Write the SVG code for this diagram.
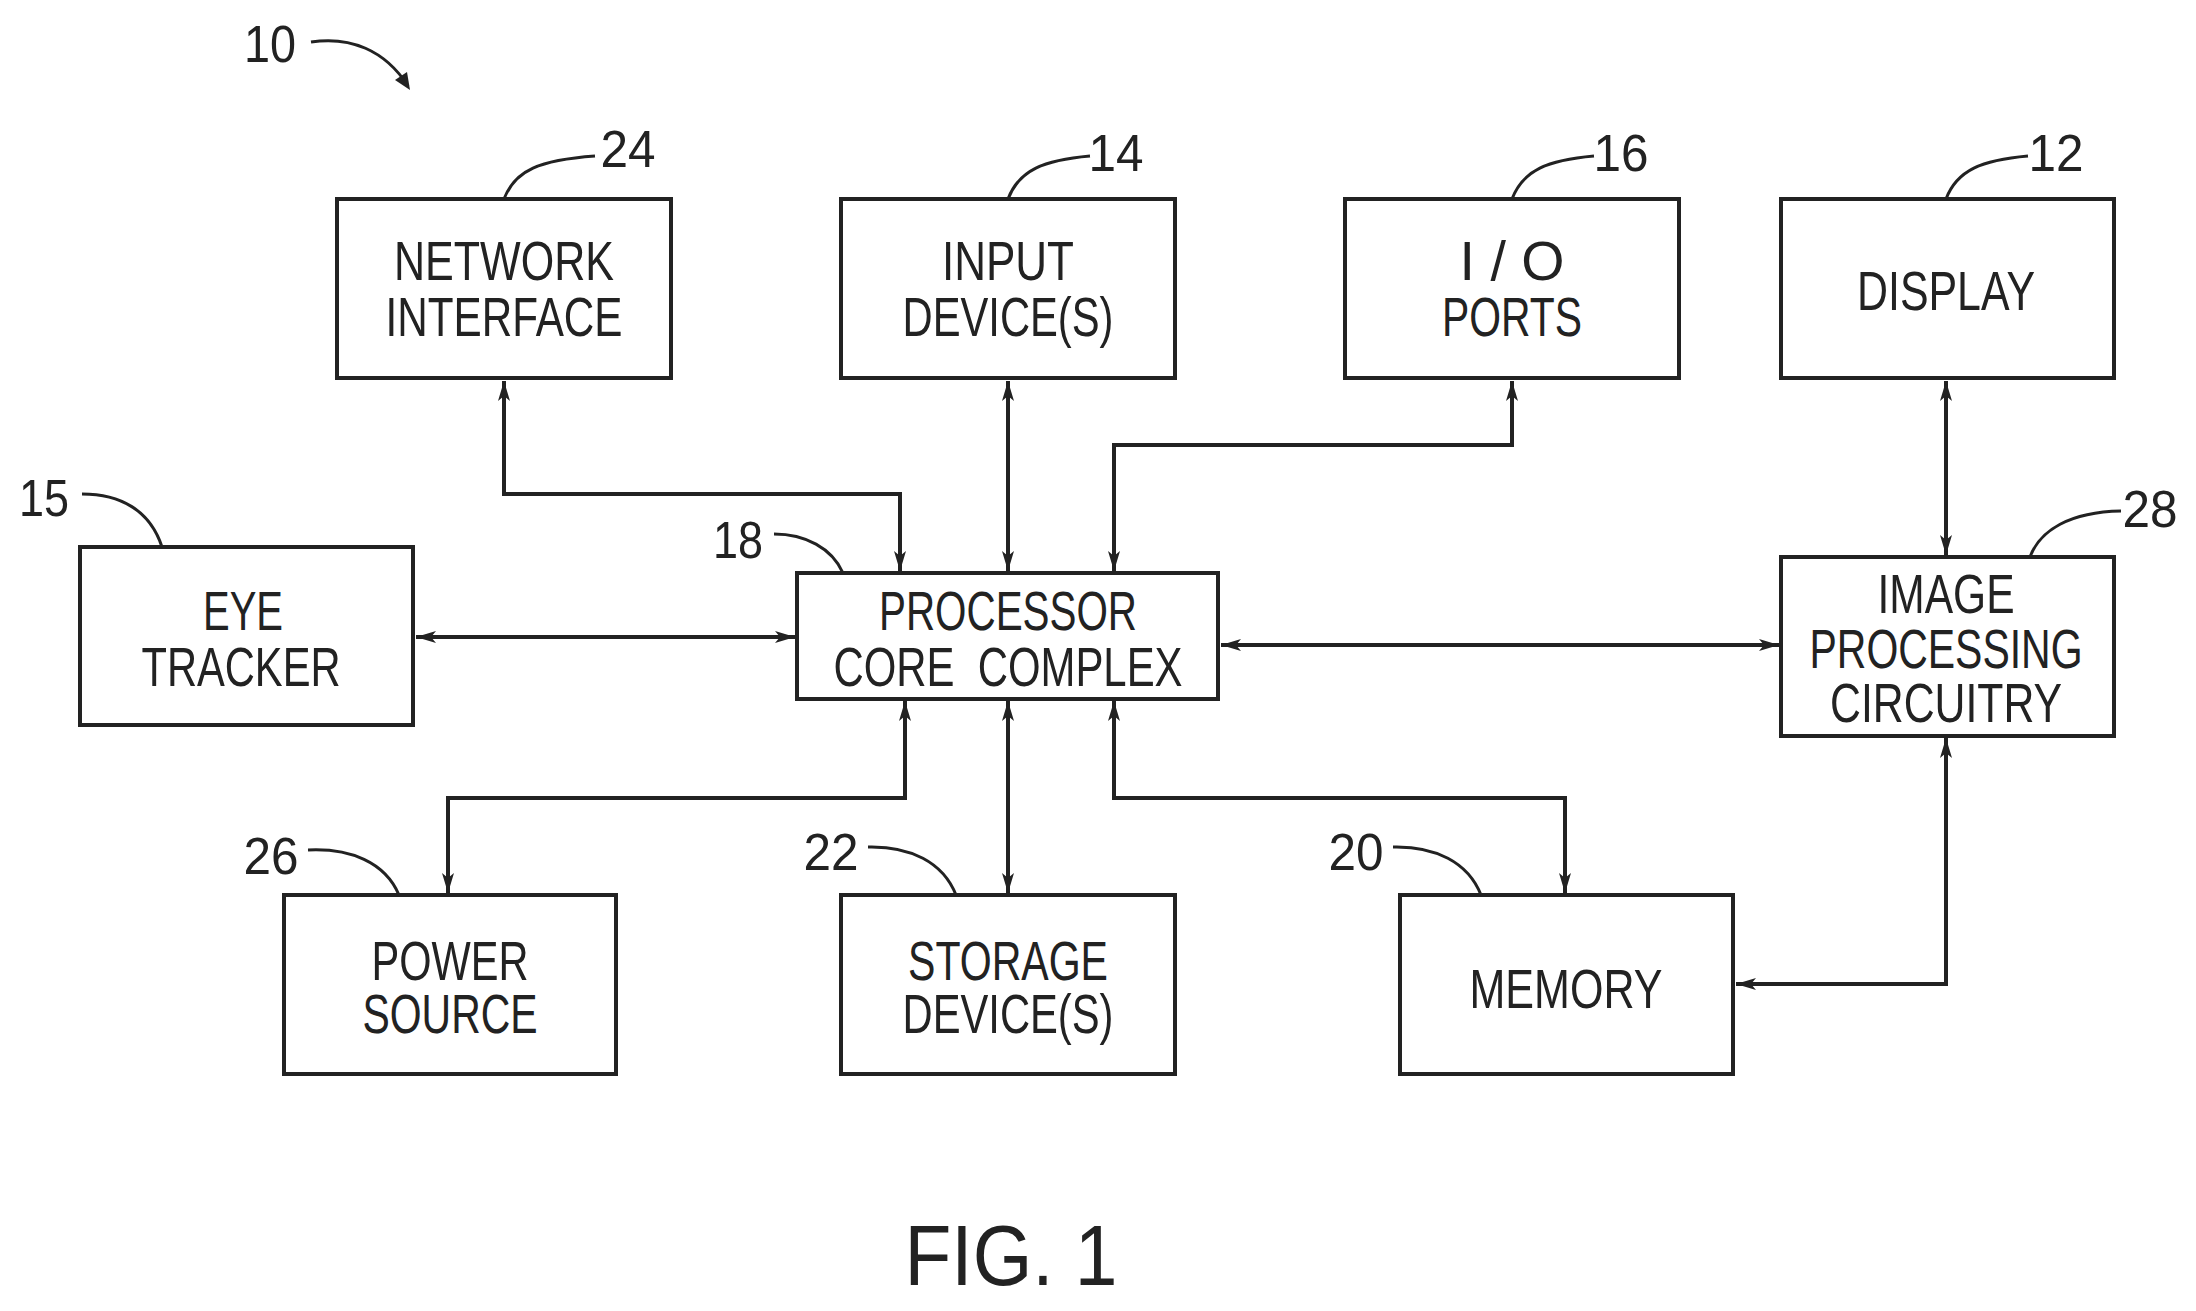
<svg xmlns="http://www.w3.org/2000/svg" width="2196" height="1311" viewBox="0 0 2196 1311">
<style>
rect.b{fill:none;stroke:#222;stroke-width:4}
.c path{fill:none;stroke:#222;stroke-width:4;marker-start:url(#a);marker-end:url(#a)}
.l{fill:none;stroke:#222;stroke-width:3}
text{font-family:"Liberation Sans",Arial,sans-serif;fill:#222;text-anchor:middle}
.t{font-size:56px}
.n{font-size:52px}
</style>
<defs>
<marker id="a" viewBox="0 0 20 12" refX="20" refY="6" markerWidth="20" markerHeight="12" markerUnits="userSpaceOnUse" orient="auto-start-reverse">
<path d="M0,0 L20,6 L0,12 L5,6 Z" fill="#222"/>
</marker>
</defs>
<rect width="2196" height="1311" fill="#fff"/>
<g class="c">
<path d="M504,381 V494 H900 V571"/>
<path d="M1008,381 V571"/>
<path d="M1512,381 V445 H1114 V571"/>
<path d="M1946,381 V555"/>
<path d="M416,637 H795"/>
<path d="M1221,645 H1779"/>
<path d="M905,701 V798 H448 V893"/>
<path d="M1008,701 V893"/>
<path d="M1114,701 V798 H1565 V893"/>
<path d="M1946,738 V984 H1736"/>
</g>
<g id="ref10"><text class="n" x="270" y="62" textLength="52" lengthAdjust="spacingAndGlyphs">10</text><path class="l" d="M311,42 C350,36 385,50 408,86"/><path d="M395,80 L410,90 L407,72 Z" fill="#222"/></g>
<g id="n24"><rect class="b" x="337" y="199" width="334" height="179"/><text class="t" x="504" y="280" textLength="220" lengthAdjust="spacingAndGlyphs">NETWORK</text><text class="t" x="504" y="336" textLength="237" lengthAdjust="spacingAndGlyphs">INTERFACE</text><text class="n" x="628" y="167" textLength="55" lengthAdjust="spacingAndGlyphs">24</text><path class="l" d="M504,199 C515,170 540,160 595,156"/></g>
<g id="n14"><rect class="b" x="841" y="199" width="334" height="179"/><text class="t" x="1008" y="280" textLength="132" lengthAdjust="spacingAndGlyphs">INPUT</text><text class="t" x="1008" y="336" textLength="211" lengthAdjust="spacingAndGlyphs">DEVICE(S)</text><text class="n" x="1116" y="171" textLength="55" lengthAdjust="spacingAndGlyphs">14</text><path class="l" d="M1008,199 C1019,170 1044,160 1090,156"/></g>
<g id="n16"><rect class="b" x="1345" y="199" width="334" height="179"/><text class="t" x="1512" y="280" textLength="105" lengthAdjust="spacingAndGlyphs">I / O</text><text class="t" x="1512" y="336" textLength="140" lengthAdjust="spacingAndGlyphs">PORTS</text><text class="n" x="1621" y="171" textLength="55" lengthAdjust="spacingAndGlyphs">16</text><path class="l" d="M1512,199 C1523,170 1548,160 1594,156"/></g>
<g id="n12"><rect class="b" x="1781" y="199" width="333" height="179"/><text class="t" x="1946" y="310" textLength="178" lengthAdjust="spacingAndGlyphs">DISPLAY</text><text class="n" x="2056" y="171" textLength="55" lengthAdjust="spacingAndGlyphs">12</text><path class="l" d="M1946,199 C1957,170 1982,160 2028,156"/></g>
<g id="n15"><rect class="b" x="80" y="547" width="333" height="178"/><text class="t" x="243" y="630" textLength="80" lengthAdjust="spacingAndGlyphs">EYE</text><text class="t" x="241" y="686" textLength="199" lengthAdjust="spacingAndGlyphs">TRACKER</text><text class="n" x="44" y="516" textLength="50" lengthAdjust="spacingAndGlyphs">15</text><path class="l" d="M82,494 C120,494 150,510 162,547"/></g>
<g id="n18"><rect class="b" x="797" y="573" width="421" height="126"/><text class="t" x="1008" y="630" textLength="258" lengthAdjust="spacingAndGlyphs">PROCESSOR</text><text class="t" x="1008" y="686" textLength="349" lengthAdjust="spacingAndGlyphs" xml:space="preserve">CORE  COMPLEX</text><text class="n" x="738" y="558" textLength="50" lengthAdjust="spacingAndGlyphs">18</text><path class="l" d="M774,534 C805,534 832,548 843,573"/></g>
<g id="n28"><rect class="b" x="1781" y="557" width="333" height="179"/><text class="t" x="1946" y="613" textLength="137" lengthAdjust="spacingAndGlyphs">IMAGE</text><text class="t" x="1946" y="668" textLength="273" lengthAdjust="spacingAndGlyphs">PROCESSING</text><text class="t" x="1946" y="722" textLength="232" lengthAdjust="spacingAndGlyphs">CIRCUITRY</text><text class="n" x="2150" y="527" textLength="55" lengthAdjust="spacingAndGlyphs">28</text><path class="l" d="M2030,557 C2040,530 2070,512 2121,511"/></g>
<g id="n26"><rect class="b" x="284" y="895" width="332" height="179"/><text class="t" x="450" y="980" textLength="157" lengthAdjust="spacingAndGlyphs">POWER</text><text class="t" x="450" y="1033" textLength="175" lengthAdjust="spacingAndGlyphs">SOURCE</text><text class="n" x="271" y="874" textLength="55" lengthAdjust="spacingAndGlyphs">26</text><path class="l" d="M308,850 C350,848 385,862 399,895"/></g>
<g id="n22"><rect class="b" x="841" y="895" width="334" height="179"/><text class="t" x="1008" y="980" textLength="200" lengthAdjust="spacingAndGlyphs">STORAGE</text><text class="t" x="1008" y="1033" textLength="211" lengthAdjust="spacingAndGlyphs">DEVICE(S)</text><text class="n" x="831" y="870" textLength="55" lengthAdjust="spacingAndGlyphs">22</text><path class="l" d="M868,847 C910,846 943,862 956,895"/></g>
<g id="n20"><rect class="b" x="1400" y="895" width="333" height="179"/><text class="t" x="1566" y="1008" textLength="193" lengthAdjust="spacingAndGlyphs">MEMORY</text><text class="n" x="1356" y="870" textLength="55" lengthAdjust="spacingAndGlyphs">20</text><path class="l" d="M1393,847 C1435,846 1468,862 1481,895"/></g>
<text x="1011" y="1285" style="font-size:86px" textLength="213" lengthAdjust="spacingAndGlyphs">FIG. 1</text>
</svg>
